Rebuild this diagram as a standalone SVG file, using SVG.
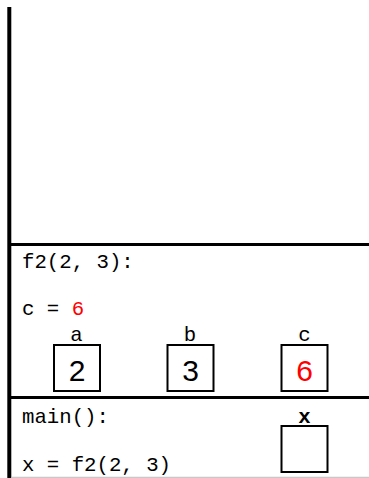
<svg xmlns="http://www.w3.org/2000/svg" width="369" height="478" viewBox="0 0 369 478">
<style>
.code{font-family:"Liberation Mono","Courier New",monospace;font-size:20.7px;fill:#000}
.lbl{font-family:"Liberation Mono","Courier New",monospace;font-size:20.7px;fill:#000;text-anchor:middle}
.val{font-family:"Liberation Sans",Arial,sans-serif;font-size:30px;fill:#000;text-anchor:middle}
.red{fill:#ff0000}
.box{fill:#fff;stroke:#000;stroke-width:2}
</style>
<rect width="369" height="478" fill="#fff"/>
<g id="frame">
<line x1="9.3" y1="7" x2="9.3" y2="478" stroke="#000" stroke-width="4"/>
<line x1="9" y1="244.5" x2="369" y2="244.5" stroke="#000" stroke-width="3"/>
<line x1="9" y1="397.5" x2="369" y2="397.5" stroke="#000" stroke-width="3"/>
<line x1="11" y1="477.3" x2="369" y2="477.3" stroke="#bbb" stroke-width="1"/>
</g>
<g id="f2-frame">
<text class="code" x="22" y="268">f2(2, 3):</text>
<text class="code" x="22" y="315">c = <tspan class="red">6</tspan></text>
</g>
<g id="var-a">
<text class="lbl" x="76.5" y="341">a</text>
<rect class="box" x="54" y="345" width="46" height="46"/>
<text class="val" x="77" y="380.5">2</text>
</g>
<g id="var-b">
<text class="lbl" x="190" y="341">b</text>
<rect class="box" x="167.5" y="345" width="46" height="46"/>
<text class="val" x="190.5" y="380.5">3</text>
</g>
<g id="var-c">
<text class="lbl" x="304.5" y="341">c</text>
<rect class="box" x="281.5" y="345" width="46" height="46"/>
<text class="val red" x="304.5" y="380.5">6</text>
</g>
<g id="main-frame">
<text class="code" x="22" y="422.7">main():</text>
<text class="code" x="22" y="471">x = f2(2, 3)</text>
</g>
<g id="var-x">
<text class="lbl" x="304.5" y="423" font-weight="bold">x</text>
<rect class="box" x="281.5" y="426" width="46" height="46"/>
</g>
<g id="connectors"></g>
</svg>
